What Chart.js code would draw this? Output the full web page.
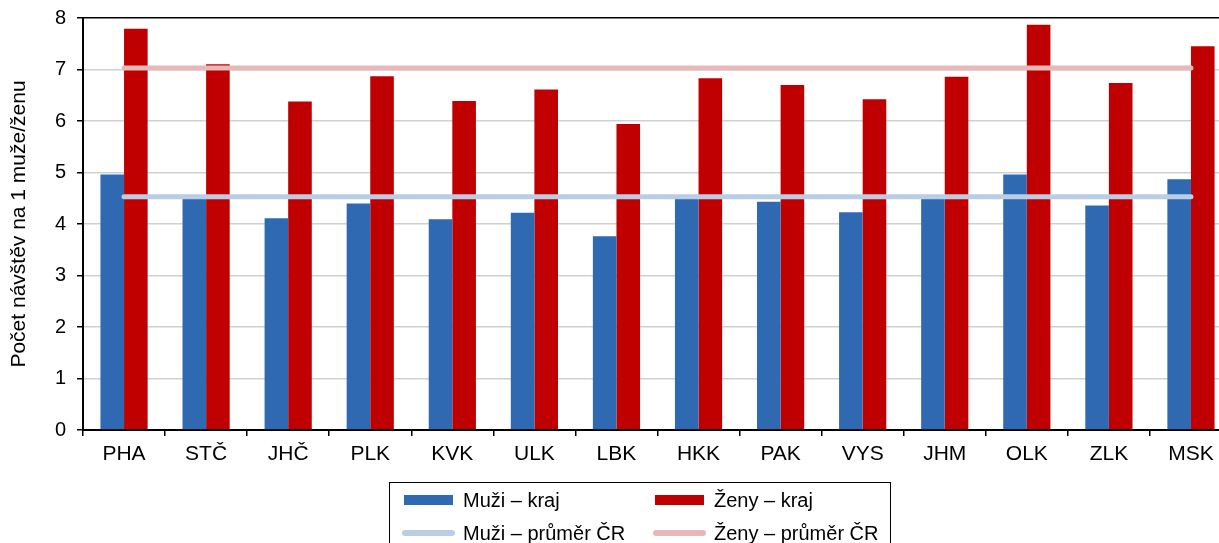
<html>
  <head>
    <title>Počet návštěv</title>
    <script src="https://cdn.jsdelivr.net/npm/chart.js@4.4.0/dist/chart.umd.min.js"></script>
    <style>
      html, body { margin:0; padding:0; overflow:hidden; background:#fff; }
      #wrap { position:relative; width:1240px; height:543px; }
      #legend {
        position:absolute; left:389px; top:482px; width:502px; height:80px;
        border:1px solid #000; box-sizing:border-box;
        font-family:"Liberation Sans", Arial, sans-serif; font-size:20px; color:#000;
      }
      .item { position:absolute; height:22px; line-height:22px; }
      .sw { position:absolute; }
    </style>
  </head>
  <body>
    <div id="wrap">
      <canvas id="chart"></canvas>
      <div id="legend"></div>
    </div>
  <script>
    var kraje = ["PHA","STČ","JHČ","PLK","KVK","ULK","LBK","HKK","PAK","VYS","JHM","OLK","ZLK","MSK"];
    var muziKraj = [4.96,4.50,4.11,4.40,4.09,4.22,3.76,4.52,4.43,4.23,4.49,4.96,4.36,4.87];
    var zenyKraj = [7.79,7.10,6.38,6.87,6.39,6.61,5.94,6.83,6.70,6.42,6.86,7.87,6.74,7.45];
    var muziPrumer = 4.53;
    var zenyPrumer = 7.03;
    var yTicks = [0,1,2,3,4,5,6,7,8];
    var seriesNames = ["Muži – kraj","Ženy – kraj","Muži – průměr ČR","Ženy – průměr ČR"];

    var modra = "#2e69b1", cervena = "#c00000", svModra = "#b9cde5", svCervena = "#e6b9b8";
    var font = "'Liberation Sans', Arial, sans-serif";

    new Chart(document.getElementById("chart"), {
      data: {
        labels: kraje,
        datasets: [
          { type:'line', label:seriesNames[2], data:kraje.map(function(){ return muziPrumer; }),
            borderColor:svModra, borderWidth:5, pointRadius:0, borderCapStyle:'round', order:0 },
          { type:'line', label:seriesNames[3], data:kraje.map(function(){ return zenyPrumer; }),
            borderColor:svCervena, borderWidth:5, pointRadius:0, borderCapStyle:'round', order:0 },
          { type:'bar', label:seriesNames[0], data:muziKraj, backgroundColor:modra,
            categoryPercentage:0.575, barPercentage:1.0, order:1 },
          { type:'bar', label:seriesNames[1], data:zenyKraj, backgroundColor:cervena,
            categoryPercentage:0.575, barPercentage:1.0, order:1 }
        ]
      },
      options: {
        responsive:true, maintainAspectRatio:false, animation:false,
        layout: { padding: { top:18, right:8, left:0, bottom:0 } },
        plugins: { legend:{ display:false }, tooltip:{ enabled:false } },
        scales: {
          x: {
            offset:true,
            grid: { offset:true, drawOnChartArea:false, drawTicks:true, tickLength:6, color:'#000', lineWidth:1.5 },
            border: { color:'#000', width:2 },
            ticks: { color:'#000', font:{ family:font, size:21 }, padding:6 },
            afterFit: function(s){ s.height = 113; s.paddingLeft = 0; s.paddingRight = 0; }
          },
          y: {
            min:0, max:8,
            afterBuildTicks: function(s){ s.ticks = yTicks.map(function(v){ return {value:v}; }); },
            grid: {
              color: function(c){ return c.tick && c.tick.value === 8 ? '#000' : '#d0d0d0'; },
              lineWidth:1.5,
              tickColor:'#000', tickLength:6
            },
            border: { color:'#000', width:2 },
            ticks: { color:'#000', font:{ family:font, size:20 }, padding:11 },
            title: { display:true, text:'Počet návštěv na 1 muže/ženu', color:'#000',
                     font:{ family:font, size:21 }, padding:{ top:7, bottom:4 } },
            afterFit: function(s){ s.width = 83; s.paddingTop = 0; s.paddingBottom = 0; }
          }
        }
      }
    });

    // legenda
    var leg = document.getElementById('legend');
    var items = [
      { name:seriesNames[0], color:modra, line:false, x:0, y:0 },
      { name:seriesNames[1], color:cervena, line:false, x:251, y:0 },
      { name:seriesNames[2], color:svModra, line:true, x:0, y:1 },
      { name:seriesNames[3], color:svCervena, line:true, x:251, y:1 }
    ];
    items.forEach(function(it){
      var top = 6 + it.y * 33;
      var sw = document.createElement('div');
      sw.className = 'sw';
      if (it.line) {
        sw.style.cssText = 'left:' + (12 + it.x) + 'px;top:' + (top + 8) + 'px;width:53px;height:6px;border-radius:3px;background:' + it.color;
      } else {
        sw.style.cssText = 'left:' + (14 + it.x) + 'px;top:' + (top + 6) + 'px;width:49px;height:10px;background:' + it.color;
      }
      leg.appendChild(sw);
      var t = document.createElement('div');
      t.className = 'item';
      t.style.left = (73 + it.x) + 'px';
      t.style.top = top + 'px';
      t.textContent = it.name;
      leg.appendChild(t);
    });
  </script>
  </body>
</html>
